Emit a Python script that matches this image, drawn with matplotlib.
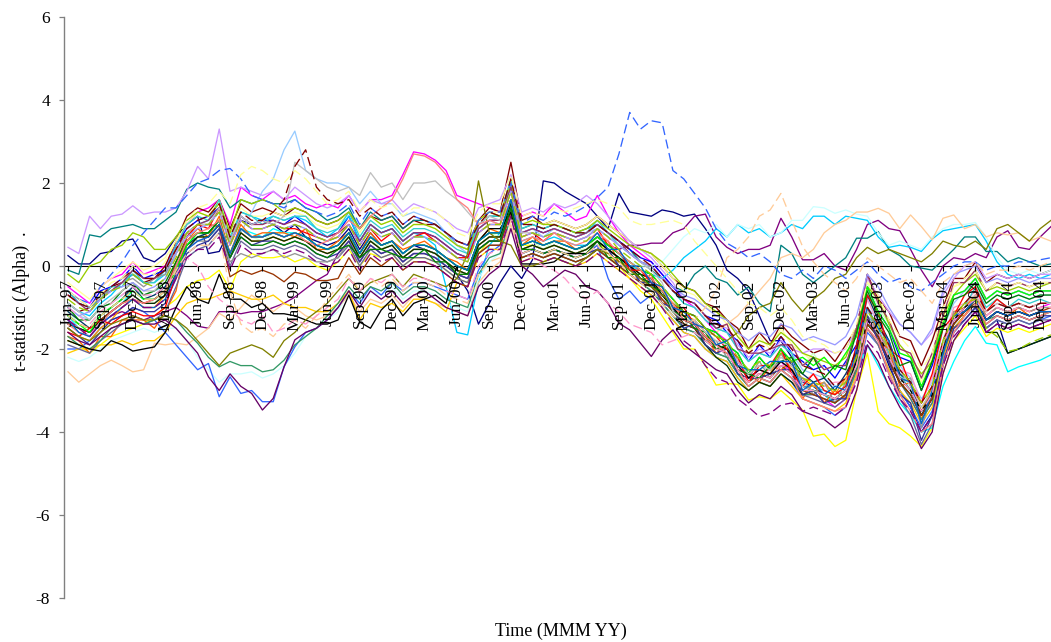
import matplotlib
matplotlib.use("Agg")
import matplotlib.pyplot as plt

plt.rcParams['font.family'] = ['Liberation Serif', 'DejaVu Serif']

# ---------------- categories ----------------
tick_labels = ["Jun-97", "Sep-97", "Dec-97", "Mar-98", "Jun-98", "Sep-98", "Dec-98", "Mar-99",
               "Jun-99", "Sep-99", "Dec-99", "Mar-00", "Jun-00", "Sep-00", "Dec-00", "Mar-01",
               "Jun-01", "Sep-01", "Dec-01", "Mar-02", "Jun-02", "Sep-02", "Dec-02", "Mar-03",
               "Jun-03", "Sep-03", "Dec-03", "Mar-04", "Jun-04", "Sep-04", "Dec-04"]
n_months = 92          # Jun-97 .. Jan-05, monthly
label_step = 3
y_ticks = [-8, -6, -4, -2, 0, 2, 4, 6]
y_tick_labels = ["-8", "-6", "-4", "-2", "0", "2", "4", "6"]

# ---------------- series (t-statistics, monthly) ----------------
darkred = [
 -0.9,-1.1,-1.0,-0.8,-0.5,-0.4,-0.2,-0.4,-0.3,0.0,0.6,1.2,
 1.4,1.3,1.6,0.9,1.5,1.3,1.4,1.3,1.2,1.4,1.3,1.1,
 1.0,1.1,1.3,0.9,1.2,1.1,1.2,0.9,1.1,1.0,1.0,0.8,
 0.6,0.5,1.1,1.4,1.3,2.5,1.1,1.2,1.0,1.1,1.0,0.9,
 1.0,1.2,1.0,0.8,0.6,0.4,0.3,0.0,-0.3,-0.5,-0.6,-0.9,
 -1.0,-1.3,-1.5,-2.0,-1.6,-1.9,-1.4,-1.7,-1.9,-2.1,-2.0,-2.3,
 -1.9,-1.5,-0.2,-0.8,-1.1,-1.7,-1.8,-2.4,-1.8,-1.0,-0.3,-0.3,
 0.1,-0.4,-0.2,-0.3,-0.2,-0.3,-0.2,-0.1]
blue = [
 -0.6,-0.9,-1.0,-0.6,-0.5,-0.3,0.0,-0.3,-0.2,-0.1,0.5,0.9,
 1.1,1.2,1.4,0.6,1.2,1.0,1.1,1.1,1.0,1.2,1.0,0.8,
 0.7,0.8,1.2,0.6,1.0,0.8,0.9,0.6,0.8,0.8,0.7,0.5,
 0.3,0.2,0.9,1.1,1.1,1.9,0.8,0.9,0.8,0.9,0.8,0.7,
 0.8,1.0,0.8,0.6,0.4,0.2,0.1,-0.2,-0.5,-0.8,-0.9,-1.2,
 -1.3,-1.6,-1.8,-2.3,-1.9,-2.2,-1.7,-2.1,-2.3,-2.5,-2.4,-2.7,
 -2.3,-1.9,-0.5,-1.1,-1.5,-2.2,-2.3,-3.0,-2.4,-1.5,-0.7,-0.6,
 -0.3,-0.8,-0.6,-0.7,-0.6,-0.7,-0.6,-0.6]
lightgreen = [
 -1.1,-1.4,-1.5,-1.1,-1.0,-0.8,-0.6,-0.7,-0.9,-0.6,0.0,0.6,
 0.8,0.7,1.1,0.3,0.9,0.7,0.6,0.8,0.8,0.7,0.7,0.5,
 0.4,0.4,0.8,0.3,0.7,0.4,0.6,0.3,0.5,0.5,0.4,0.2,
 0.0,-0.1,0.6,0.8,0.7,1.6,0.5,0.6,0.4,0.6,0.5,0.4,
 0.4,0.7,0.4,0.2,0.0,-0.2,-0.3,-0.6,-0.9,-1.2,-1.3,-1.6,
 -1.9,-1.8,-2.4,-2.5,-2.5,-2.4,-2.3,-2.2,-2.4,-2.1,-2.5,-2.4,
 -2.4,-1.5,-0.4,-1.0,-1.4,-2.1,-2.2,-2.8,-2.2,-1.4,-0.7,-0.6,
 -0.3,-0.8,-0.6,-0.7,-0.6,-0.7,-0.6,-0.6]
aqua = [
 -0.6,-0.9,-1.0,-0.8,-0.5,-0.5,-0.1,-0.4,-0.4,-0.1,0.5,1.0,
 1.2,1.1,1.6,0.7,1.3,1.2,1.0,1.2,1.1,1.2,1.2,0.9,
 0.8,0.9,1.3,0.7,1.1,0.9,1.0,0.7,0.9,0.9,0.8,0.6,
 0.4,0.3,1.0,1.2,1.2,2.1,0.9,1.0,0.9,1.0,0.9,0.8,
 0.8,1.1,0.8,0.5,0.3,0.1,0.0,-0.3,-0.6,-0.9,-1.0,-1.3,
 -1.5,-1.6,-2.0,-2.3,-2.1,-2.2,-1.9,-2.1,-2.9,-2.9,-3.0,-3.1,
 -2.9,-2.3,-1.2,-1.5,-2.1,-2.6,-3.0,-3.5,-3.0,-1.9,-1.3,-1.0,
 -0.5,-1.0,-0.8,-1.0,-0.8,-0.9,-0.8,-0.9]
lime = [
 -0.2,-0.4,0.0,0.1,0.4,0.5,0.8,0.7,0.4,0.4,0.7,1.1,
 1.3,1.2,1.5,0.8,1.6,1.5,1.6,1.5,1.3,1.4,1.3,1.1,
 1.0,1.1,1.3,0.9,1.2,1.0,1.1,0.8,1.0,1.0,0.9,0.7,
 0.5,0.4,1.1,1.3,1.2,2.0,1.0,1.1,1.0,1.0,0.9,0.8,
 0.9,1.1,0.9,0.7,0.5,0.4,0.3,0.1,-0.2,-0.5,-0.6,-0.9,
 -1.1,-1.3,-1.7,-2.0,-1.8,-1.9,-1.6,-1.8,-2.1,-2.2,-2.3,-2.4,
 -2.2,-1.5,-0.5,-0.8,-1.4,-1.9,-2.2,-2.6,-2.3,-1.2,-0.7,-0.4,
 -0.2,-0.6,-0.5,-0.6,-0.5,-0.6,-0.5,-0.4]
gold = [
 -2.1,-2.0,-2.0,-1.9,-1.9,-1.8,-1.9,-1.8,-1.8,-1.6,-1.2,-0.9,
 -0.8,-0.8,-0.7,-0.6,-0.7,-0.8,-0.8,-0.7,-0.9,-1.0,-1.0,-1.1,
 -1.1,-0.9,-0.6,-1.3,-0.9,-1.0,-0.9,-1.1,-0.8,-0.8,-0.9,-1.1,
 -0.4,-0.5,0.2,0.4,0.4,1.3,0.1,0.2,0.1,0.2,0.1,0.0,
 0.1,0.3,0.1,-0.1,-0.3,-0.5,-0.7,-1.0,-1.3,-1.6,-1.7,-2.0,
 -2.2,-2.3,-2.7,-3.0,-2.8,-2.9,-2.6,-2.9,-3.2,-3.3,-3.4,-3.5,
 -3.3,-2.6,-1.5,-1.9,-2.5,-3.0,-3.3,-3.8,-3.4,-2.2,-1.5,-1.2,
 -0.9,-1.4,-1.2,-1.3,-1.2,-1.3,-1.2,-1.1]
black = [
 -1.8,-1.9,-2.0,-2.05,-1.8,-1.9,-2.05,-2.0,-1.95,-1.6,-1.0,-0.5,
 -0.8,-0.9,-0.2,-0.8,-0.8,-1.0,-0.9,-1.15,-1.15,-1.2,-1.3,-1.4,
 -1.4,-1.3,-0.7,-1.35,-1.5,-1.06,-0.8,-1.2,-0.9,-0.8,-0.7,-0.9,
 0.0,-0.1,0.6,0.9,0.9,1.3,0.05,0.05,0.05,0.1,0.3,0.3,
 0.3,0.6,0.4,0.2,0.0,-0.2,-0.3,-0.7,-1.0,-1.3,-1.4,-1.7,
 -1.9,-2.0,-2.4,-2.7,-2.5,-2.6,-2.3,-2.5,-2.9,-3.0,-3.1,-3.2,
 -3.0,-2.3,-1.3,-1.6,-2.2,-2.7,-3.0,-3.5,-3.1,-2.0,-1.3,-1.0,
 -0.8,-1.3,-1.1,-1.2,-1.1,-1.2,-1.1,-1.1]
purple = [
 -1.3,-1.5,-1.6,-1.4,-1.2,-1.1,-1.2,-1.3,-1.2,-1.1,-1.0,-1.2,
 -1.45,-1.5,-1.1,-1.1,-1.15,-1.1,-1.1,-1.0,-0.9,-0.75,-0.55,-0.35,
 -0.2,0.3,0.6,0.1,0.5,0.3,0.4,0.1,0.3,0.3,0.2,0.0,
 -0.2,-0.3,0.4,0.6,0.6,1.4,0.3,0.4,0.3,0.4,0.3,0.3,
 0.4,0.6,0.5,0.4,0.5,0.5,0.55,0.55,0.8,0.9,1.2,1.25,
 0.7,0.45,0.3,0.4,0.4,0.5,1.15,0.7,0.15,0.15,0.3,0.0,
 -0.1,0.4,1.0,1.1,0.9,0.85,0.4,-0.1,-0.5,0.0,0.2,0.15,
 0.3,0.2,0.7,0.85,0.45,0.4,0.7,0.95]
navy = [
 0.25,0.05,0.05,0.3,0.35,0.6,0.65,0.2,0.1,0.3,0.7,1.0,
 1.2,0.3,0.35,0.9,1.1,1.0,1.1,1.0,0.8,1.0,0.7,0.6,
 0.5,0.6,0.9,0.4,0.8,0.5,0.6,0.3,0.5,0.4,0.3,0.1,
 -0.2,-0.6,-1.4,-0.9,-0.4,0.0,-0.3,0.15,2.05,2.0,1.8,1.65,
 1.5,1.2,0.9,1.75,1.3,1.25,1.2,1.35,1.3,1.2,1.25,0.9,
 0.5,-0.1,-0.3,-0.6,-1.2,-1.8,-1.8,-2.2,-2.8,-2.9,-3.1,-3.3,
 -3.1,-2.5,-1.3,-1.7,-2.4,-3.0,-3.4,-4.0,-3.6,-2.3,-1.5,-1.2,
 -0.9,-1.5,-1.3,-2.1,-2.0,-1.9,-1.8,-1.7]
magenta = [
 -0.5,-0.7,-0.9,-0.5,-0.3,-0.2,0.1,-0.2,-0.1,0.0,0.5,1.0,
 1.3,1.4,1.6,1.0,1.9,1.7,1.6,1.8,1.6,1.7,1.5,1.4,
 1.5,1.4,1.7,1.3,1.6,1.6,1.7,2.2,2.75,2.7,2.55,2.3,
 1.7,1.6,1.5,1.4,1.3,2.0,1.2,1.3,1.2,1.5,1.3,1.1,
 1.2,1.7,1.2,0.8,0.5,0.3,0.1,-0.2,-0.5,-0.8,-1.0,-1.3,
 -1.6,-1.8,-2.3,-2.7,-2.5,-2.6,-2.3,-2.6,-3.1,-3.1,-3.2,-3.4,
 -3.2,-2.4,-1.3,-1.6,-2.3,-2.8,-3.2,-3.7,-3.3,-2.2,-1.4,-1.0,
 -0.7,-1.2,-1.0,-1.1,-1.0,-1.1,-1.0,-0.9]
coral = [
 -1.4,-1.6,-1.7,-1.4,-1.1,-0.9,-0.8,-0.9,-0.8,-0.6,0.0,0.6,
 0.8,0.9,1.1,0.3,0.9,0.7,0.7,0.8,0.7,0.8,0.6,0.5,
 0.6,0.8,1.1,0.9,1.2,1.4,1.6,2.1,2.7,2.65,2.5,2.2,
 1.6,1.4,1.0,1.1,1.0,1.6,0.6,0.7,0.6,0.8,0.6,0.5,
 0.6,0.8,0.6,0.3,0.1,-0.1,-0.3,-0.6,-0.9,-1.3,-1.4,-1.7,
 -1.9,-2.1,-2.5,-2.9,-2.7,-2.8,-2.5,-2.7,-3.2,-3.3,-3.4,-3.5,
 -3.4,-2.7,-1.5,-1.8,-2.6,-3.1,-3.5,-4.0,-3.8,-2.4,-1.6,-1.2,
 -0.9,-1.4,-1.2,-1.3,-1.2,-1.3,-1.2,-1.1]
silver = [
 -0.9,-1.1,-1.3,-1.0,-0.8,-0.6,-0.4,-0.6,-0.6,-0.3,0.3,0.8,
 1.0,1.0,1.4,0.6,1.2,1.0,1.1,1.0,1.2,2.5,2.3,2.1,
 1.9,1.8,1.9,1.7,2.25,1.9,2.0,1.6,2.0,2.0,2.05,1.8,
 1.6,1.3,1.0,1.2,1.1,1.8,0.8,0.8,0.7,0.8,0.7,0.6,
 0.7,0.9,0.7,0.5,0.3,0.1,-0.1,-0.4,-1.1,-1.3,-1.3,-1.6,
 -1.8,-1.9,-2.3,-2.6,-2.4,-2.5,-2.2,-2.4,-2.9,-3.0,-3.1,-3.2,
 -3.0,-2.4,-1.1,-1.4,-2.0,-2.5,-2.9,-3.4,-3.0,-1.8,-1.2,-0.9,
 -0.7,-1.1,-0.9,-1.0,-0.9,-1.0,-0.9,-0.9]
paleblue = [
 -1.0,-1.2,-1.3,-1.0,-0.9,-0.7,-0.5,-0.7,-0.6,-0.5,0.0,0.4,
 0.6,0.7,0.9,0.3,0.8,1.3,1.8,2.1,2.8,3.25,2.3,2.1,
 2.0,2.0,1.9,1.5,1.8,1.5,1.5,1.2,1.3,1.2,1.1,0.8,
 0.5,0.3,0.9,1.1,1.0,1.8,0.8,0.9,0.7,0.9,0.8,0.7,
 0.8,0.9,0.7,0.5,0.3,0.1,0.0,-0.3,-0.6,-0.9,-1.0,-1.3,
 -1.5,-1.6,-2.0,-2.3,-2.1,-2.2,-1.9,-2.1,-2.5,-2.6,-2.7,-2.9,
 -2.8,-2.1,-1.0,-1.3,-1.9,-2.4,-2.7,-3.2,-2.8,-1.5,-0.9,-0.6,
 -0.4,-0.9,-0.7,-0.8,-0.7,-0.8,-0.7,-0.7]
lavender = [
 0.45,0.3,1.2,0.9,1.2,1.25,1.45,1.25,1.3,1.3,1.4,1.8,
 2.4,2.1,3.3,1.8,1.9,1.8,1.7,1.8,1.6,1.9,1.7,1.5,
 1.4,1.5,1.7,1.3,1.6,1.5,1.6,1.3,1.5,1.4,1.3,1.1,
 0.9,0.8,1.4,1.5,1.6,2.2,1.3,1.4,1.3,1.5,1.4,1.5,
 1.7,1.5,1.2,0.9,0.6,0.4,0.2,-0.1,-0.4,-0.8,-0.9,-1.2,
 -1.4,-1.5,-1.9,-2.2,-2.0,-2.1,-1.8,-2.0,-2.1,-2.0,-2.0,-2.1,
 -2.0,-1.5,-0.3,-0.7,-1.1,-1.4,-1.6,-1.9,-1.6,-0.7,-0.3,0.0,
 0.1,-0.3,-0.2,-0.3,-0.2,-0.3,-0.2,-0.2]
teal = [
 -0.1,-0.2,0.75,0.7,0.9,0.95,1.0,0.9,0.9,1.1,1.3,1.85,
 2.0,1.9,1.85,1.4,1.6,1.5,1.6,1.5,1.5,1.6,1.4,1.3,
 1.1,1.2,1.4,0.9,1.3,1.1,1.2,0.9,1.1,1.1,1.0,0.8,
 0.5,0.4,1.0,1.2,1.2,1.9,0.9,1.0,0.9,1.0,0.9,0.8,
 0.9,1.0,0.8,0.6,0.4,0.1,-0.1,-0.3,-0.5,-0.6,-0.2,0.0,
 -0.3,-0.4,-0.7,-0.5,-0.9,-1.1,0.5,0.3,-0.2,-0.4,-0.2,0.0,
 0.2,0.67,0.67,0.83,0.4,0.25,0.0,-0.05,-0.1,0.15,0.4,0.7,
 0.7,0.35,0.35,0.1,0.2,0.1,0.0,0.05]
olive = [
 -1.5,-1.7,-1.8,-1.6,-1.4,-1.3,-1.2,-1.3,-1.3,-1.2,-1.3,-1.5,
 -1.8,-2.1,-2.4,-2.1,-2.0,-1.9,-2.0,-2.2,-1.8,-1.6,-1.3,-1.1,
 -0.9,-0.6,-0.3,-0.6,-0.4,-0.3,-0.2,-0.5,-0.2,-0.3,-0.4,-0.5,
 -0.3,0.3,2.05,0.8,0.6,0.5,0.0,0.0,0.1,0.2,0.1,0.0,
 0.2,0.4,0.3,0.1,-0.1,-0.3,-0.5,-0.7,-0.9,-1.1,-1.2,-1.5,
 -1.7,-1.8,-1.6,-1.2,-1.0,-0.9,-0.4,-0.8,-1.1,-0.8,-0.6,-0.3,
 -0.2,0.2,0.45,0.3,0.4,0.3,0.2,0.1,0.3,0.6,0.5,0.45,
 0.6,0.4,0.9,1.0,0.8,0.6,0.9,1.1]
tan = [
 -2.55,-2.8,-2.6,-2.4,-2.27,-2.4,-2.55,-2.5,-1.86,-1.9,-1.86,-1.9,
 -1.7,-1.5,-1.14,-1.3,-1.0,-0.7,-0.9,-1.1,-0.9,-1.0,-1.2,-1.3,
 -1.2,-1.0,-0.7,-1.1,-0.8,-0.9,-0.7,-1.0,-0.7,-0.8,-0.9,-1.0,
 -1.1,-1.2,-0.4,-0.1,0.1,1.0,0.2,0.3,0.2,0.4,0.3,0.2,
 0.3,0.5,0.3,0.1,-0.1,-0.3,-0.4,-0.8,-1.1,-1.3,-1.4,-1.7,
 -1.6,-1.4,-1.2,-0.9,-0.6,-0.3,0.2,0.3,0.2,0.4,0.8,1.0,
 1.1,1.3,1.3,1.39,1.27,0.9,1.23,0.95,0.63,1.15,1.23,0.9,
 1.0,0.7,0.8,0.75,0.8,0.6,0.7,0.6]
brown = [
 -1.2,-1.4,-1.5,-1.3,-1.1,-0.9,-0.8,-0.9,-0.8,-0.6,0.1,0.7,
 1.0,1.0,0.95,-0.26,-0.1,-0.2,-0.1,-0.2,-0.38,-0.15,-0.2,-0.35,
 -0.35,-0.3,0.2,-0.2,0.2,0.0,0.2,-0.1,0.1,0.1,0.0,-0.2,
 -0.4,-0.5,0.3,0.5,0.5,1.3,0.2,0.3,0.2,0.3,0.2,0.1,
 0.2,0.4,0.2,0.0,-0.2,-0.4,-0.5,-0.8,-1.1,-1.4,-1.5,-1.8,
 -2.0,-2.1,-2.5,-2.8,-2.6,-2.7,-2.4,-2.6,-3.0,-3.1,-3.2,-3.3,
 -3.1,-2.4,-1.4,-1.7,-2.3,-2.8,-3.1,-3.6,-3.2,-2.0,-1.4,-1.1,
 -0.8,-1.3,-1.1,-1.2,-1.1,-1.2,-1.1,-1.0]
yellow = [
 -1.8,-1.9,-2.1,-1.9,-1.7,-1.6,-1.5,-1.4,-1.2,-1.0,-0.8,-0.5,
 -0.35,-0.3,-0.1,-0.58,0.1,0.3,0.2,0.2,0.25,0.1,0.2,0.0,
 -0.1,0.1,0.4,0.0,0.3,0.2,0.3,0.0,0.2,0.2,0.1,-0.1,
 -0.3,-0.4,0.3,0.6,0.6,1.5,0.5,0.5,0.4,0.5,0.4,0.3,
 0.4,0.6,0.3,0.0,-0.3,-0.6,-0.8,-1.2,-1.6,-2.0,-2.0,-2.4,
 -2.87,-2.83,-2.85,-3.23,-3.15,-3.2,-3.0,-3.23,-3.47,-4.1,-4.05,-4.35,
 -4.2,-3.0,-2.1,-3.5,-3.8,-3.9,-4.1,-4.35,-3.9,-2.6,-1.8,-1.5,
 -1.2,-1.7,-1.5,-1.6,-1.5,-1.6,-1.5,-1.4]
cyan = [
 -1.2,-1.5,-1.7,-1.4,-1.1,-0.9,-0.6,-0.8,-0.8,-0.6,0.0,0.5,
 0.8,0.8,1.1,0.2,0.9,0.8,0.7,0.9,0.8,0.8,0.7,0.5,
 0.4,0.4,0.7,0.2,0.6,0.4,0.5,0.2,0.4,0.4,0.3,0.1,
 -0.1,-0.2,0.5,0.7,0.7,1.5,0.4,0.5,0.4,0.5,0.4,0.3,
 0.4,0.6,0.4,0.2,-0.1,-0.3,-0.5,-0.8,-1.1,-1.4,-1.5,-1.8,
 -2.0,-2.1,-2.5,-2.8,-2.6,-2.7,-2.4,-2.6,-3.0,-3.0,-3.1,-3.3,
 -3.1,-2.6,-1.9,-2.4,-2.9,-3.3,-3.6,-4.0,-3.9,-2.9,-2.3,-1.8,
 -1.46,-1.86,-1.9,-2.55,-2.43,-2.35,-2.27,-2.14]
skyblue = [
 -0.9,-1.1,-1.2,-0.9,-0.7,-0.4,-0.2,-0.4,-0.4,-0.2,0.3,0.8,
 1.0,1.1,1.4,0.6,1.3,1.2,1.1,1.2,1.1,1.2,1.1,0.9,
 0.7,0.9,1.2,0.6,1.0,0.8,0.9,0.6,0.8,0.7,0.5,-0.5,
 -1.6,-1.66,-0.4,0.5,0.8,1.6,0.6,0.7,0.6,0.7,0.6,0.5,
 0.5,0.7,0.5,0.3,0.0,-0.1,-0.2,-0.3,-0.1,0.2,0.4,0.6,
 0.9,0.7,1.0,0.8,0.9,0.7,0.8,1.0,0.9,1.2,1.2,1.0,
 1.2,1.15,1.1,0.7,0.45,0.5,0.45,0.35,0.65,0.85,0.9,0.95,
 1.0,0.6,0.1,-0.2,-0.3,-0.2,-0.3,-0.2]
lightturq = [
 -2.2,-2.3,-2.2,-2.0,-1.8,-1.7,-1.6,-1.5,-1.6,-1.5,-1.5,-1.8,
 -2.2,-2.5,-2.8,-2.6,-2.6,-2.55,-2.7,-2.6,-2.4,-2.1,-1.7,-1.5,
 -1.3,-1.1,-0.6,-0.9,-0.6,-0.7,-0.5,-0.8,-0.6,-0.6,-0.7,-0.9,
 -1.0,-1.1,-0.3,0.1,0.3,1.2,0.3,0.4,0.3,0.4,0.3,0.3,
 0.4,0.6,0.5,0.3,0.1,0.0,0.0,0.1,0.4,0.7,0.9,0.8,
 1.0,0.7,1.0,0.9,1.0,0.7,0.8,1.1,1.1,1.43,1.4,1.27,
 1.35,1.25,1.2,0.8,0.5,0.6,0.5,0.4,0.7,0.9,1.0,1.0,
 1.05,0.7,0.2,-0.1,-0.2,-0.1,-0.2,-0.1]
seagreen = [
 -1.7,-1.9,-2.0,-1.8,-1.5,-1.4,-1.3,-1.4,-1.3,-1.2,-1.3,-1.6,
 -1.86,-2.2,-2.43,-2.3,-2.4,-2.4,-2.55,-2.5,-2.27,-1.9,-1.7,-1.5,
 -1.2,-0.9,-0.5,-0.8,-0.5,-0.6,-0.4,-0.7,-0.5,-0.5,-0.6,-0.8,
 -0.9,-1.0,-0.2,0.2,0.3,1.2,0.2,0.3,0.2,0.3,0.2,0.1,
 0.2,0.4,0.2,0.0,-0.2,-0.4,-0.6,-0.9,-1.2,-1.5,-1.6,-1.9,
 -2.1,-2.2,-2.6,-2.9,-2.7,-2.8,-2.5,-2.7,-3.1,-3.1,-3.2,-3.3,
 -3.1,-2.5,-1.4,-1.7,-2.3,-2.8,-3.2,-3.7,-3.3,-2.1,-1.4,-1.1,
 -0.9,-1.3,-1.2,-1.3,-1.2,-1.3,-1.2,-1.1]
lightblue = [
 -2.0,-2.0,-1.8,-1.5,-1.3,-1.2,-1.0,-1.1,-1.3,-1.6,-1.9,-2.2,
 -2.5,-2.35,-3.15,-2.67,-3.07,-3.0,-3.27,-3.27,-2.43,-1.95,-1.6,-1.5,
 -1.3,-1.0,-0.6,-0.9,-0.5,-0.7,-0.4,-0.6,-0.4,-0.4,-0.5,-0.6,
 -0.7,-0.8,-0.1,0.3,0.5,1.3,0.3,0.4,0.3,0.4,0.3,0.2,
 0.3,0.5,-0.3,-0.8,-0.6,-0.9,-0.7,-1.0,-1.3,-1.6,-1.7,-2.0,
 -2.2,-2.3,-2.7,-3.0,-2.8,-2.9,-2.6,-2.8,-3.2,-3.3,-3.4,-3.6,
 -3.4,-2.7,-1.6,-1.9,-2.5,-3.0,-3.4,-3.9,-3.5,-2.3,-1.6,-1.3,
 -1.0,-1.5,-1.3,-1.4,-1.3,-1.4,-1.3,-1.2]
darkpurple = [
 -1.6,-1.8,-1.9,-1.7,-1.5,-1.4,-1.3,-1.4,-1.4,-1.3,-1.5,-1.8,
 -2.1,-2.67,-3.0,-2.6,-2.9,-3.07,-3.47,-3.19,-2.43,-1.78,-1.6,-1.5,
 -1.3,-1.0,-0.6,-1.0,-0.6,-0.8,-0.6,-0.9,-0.7,-0.6,-0.8,-1.0,
 -1.1,-1.2,-0.5,-0.2,0.0,0.9,0.0,-0.2,-0.5,-0.3,-0.1,-0.2,
 -0.5,-0.6,-0.9,-1.38,-1.54,-1.86,-2.18,-1.78,-1.54,-1.9,-2.1,-2.3,
 -2.5,-2.6,-3.0,-3.3,-3.1,-3.2,-2.9,-3.1,-3.5,-3.6,-3.7,-3.9,
 -3.7,-3.0,-1.9,-2.3,-2.9,-3.4,-3.8,-4.4,-4.0,-2.6,-1.8,-1.4,
 -1.1,-1.6,-1.4,-1.5,-1.4,-1.5,-1.4,-1.3]
lightyellow = [
 -0.4,-0.6,-0.8,-0.5,-0.3,-0.1,0.1,-0.1,0.0,0.2,0.6,1.0,
 1.3,1.2,1.6,0.8,1.4,1.2,1.2,1.3,1.2,1.3,1.2,1.0,
 0.9,1.0,1.3,0.8,1.2,1.0,1.1,0.8,1.0,1.0,0.9,0.7,
 0.5,0.4,1.1,1.3,1.3,2.1,1.0,1.1,1.0,1.1,1.0,0.9,
 1.0,1.2,1.0,0.8,0.6,0.4,0.3,0.0,-0.3,-0.6,-0.7,-1.0,
 -1.1,-1.4,-1.6,-2.1,-1.7,-2.0,-1.5,-1.9,-2.1,-2.3,-2.2,-2.5,
 -2.1,-1.7,-0.3,-0.9,-1.3,-2.0,-2.1,-2.8,-2.2,-1.3,-0.5,-0.4,
 -0.1,-0.6,-0.4,-0.5,-0.4,-0.5,-0.4,-0.4]
rose = [
 -1.3,-1.5,-1.7,-1.3,-1.1,-0.9,-0.7,-0.9,-0.9,-0.7,-0.1,0.4,
 0.6,0.7,1.0,0.2,0.8,0.6,0.6,0.7,0.6,0.7,0.6,0.4,
 0.3,0.4,0.7,0.2,0.6,0.4,0.5,0.2,0.4,0.4,0.3,0.1,
 -0.1,-0.2,0.5,0.7,0.7,1.5,0.4,0.5,0.4,0.5,0.4,0.3,
 0.3,0.5,0.3,0.1,-0.1,-0.3,-0.4,-0.7,-1.0,-1.3,-1.4,-1.7,
 -2.0,-1.9,-2.5,-2.6,-2.6,-2.5,-2.4,-2.4,-2.8,-2.6,-2.9,-2.8,
 -2.8,-2.0,-0.8,-1.4,-1.8,-2.5,-2.6,-3.3,-2.7,-1.8,-1.0,-0.9,
 -0.6,-1.1,-0.9,-1.0,-0.9,-1.0,-0.9,-0.9]
orange = [
 -1.7,-1.8,-2.1,-1.7,-1.7,-1.3,-1.3,-1.3,-1.5,-1.1,-0.6,0.6,
 0.9,0.7,1.2,0.3,1.0,0.7,0.8,0.8,0.8,0.7,0.9,0.4,
 0.4,0.6,0.8,0.3,0.8,0.5,0.6,0.4,0.5,0.6,0.4,0.2,
 0.1,-0.1,0.6,0.9,0.8,1.6,0.5,0.7,0.5,0.6,0.6,0.4,
 0.5,0.7,0.6,0.1,0.0,-0.4,-0.2,-0.9,-0.9,-1.3,-1.4,-1.7,
 -2.1,-1.9,-2.5,-2.6,-2.8,-2.4,-2.5,-2.3,-3.2,-2.8,-3.3,-3.0,
 -3.2,-2.1,-1.2,-1.8,-2.0,-2.9,-2.8,-3.7,-2.9,-2.2,-1.2,-1.2,
 -0.8,-1.3,-1.1,-1.2,-1.0,-1.2,-1.1,-1.1]
red = [
 -1.6,-1.7,-1.5,-1.3,-1.4,-1.2,-1.1,-1.2,-1.2,-1.0,-0.2,0.7,
 1.0,0.9,1.4,0.5,1.1,0.9,0.9,1.0,0.9,0.9,0.8,0.7,
 0.6,0.7,1.0,0.5,0.9,0.6,0.8,0.5,0.7,0.8,0.6,0.4,
 0.2,0.2,0.8,1.0,1.0,1.8,0.7,0.8,0.6,0.8,0.7,0.6,
 0.7,0.9,0.5,0.4,-0.1,-0.1,-0.4,-0.5,-1.0,-1.0,-1.4,-1.5,
 -1.7,-2.0,-2.2,-2.8,-2.4,-2.4,-2.0,-2.6,-2.9,-2.6,-3.0,-3.1,
 -2.9,-1.9,-0.7,-1.1,-2.0,-2.2,-2.9,-3.3,-2.6,-1.5,-1.2,-0.7,
 -0.5,-1.1,-0.8,-1.0,-0.9,-1.0,-0.9,-0.9]
green = [
 -1.0,-1.3,-1.3,-1.0,-0.9,-0.6,-0.4,-0.7,-0.6,-0.4,0.1,0.6,
 0.8,0.8,1.1,0.2,0.7,0.5,0.5,0.6,0.5,0.6,0.5,0.3,
 0.2,0.4,0.5,0.2,0.4,0.4,0.3,0.2,0.2,0.4,0.1,0.1,
 -0.2,-0.2,0.4,0.6,0.6,1.4,0.4,0.4,0.3,0.4,0.3,0.2,
 0.3,0.6,0.2,0.2,-0.2,-0.2,-0.5,-0.6,-1.1,-1.2,-1.5,-1.6,
 -2.0,-1.9,-2.5,-2.6,-2.7,-2.4,-2.3,-2.2,-2.6,-2.2,-2.7,-2.4,
 -2.5,-1.6,-0.6,-1.2,-1.6,-2.4,-2.3,-3.0,-2.3,-1.5,-0.8,-0.7,
 -0.4,-0.9,-0.7,-0.8,-0.7,-0.8,-0.7,-0.7]
darkgreen = [
 -1.4,-1.5,-1.6,-1.3,-1.1,-0.9,-0.7,-0.9,-0.9,-0.7,-0.2,0.4,
 0.7,0.7,1.0,0.2,0.8,0.6,0.6,0.7,0.6,0.7,0.6,0.4,
 0.3,0.4,0.7,0.2,0.6,0.4,0.5,0.2,0.4,0.4,0.3,0.1,
 -0.1,-0.2,0.5,0.7,0.7,1.5,0.4,0.5,0.4,0.5,0.4,0.3,
 0.4,0.6,0.4,0.2,0.0,-0.3,-0.4,-0.7,-1.0,-1.4,-1.5,-1.9,
 -2.2,-2.4,-2.8,-3.0,-2.8,-2.9,-2.6,-2.8,-3.1,-3.0,-3.1,-3.2,
 -3.0,-2.4,-1.4,-1.7,-2.3,-2.8,-3.1,-3.6,-3.2,-2.0,-1.4,-1.1,
 -0.9,-1.6,-1.6,-2.1,-2.0,-1.9,-1.8,-1.7]
gray40 = [
 -0.6,-0.8,-1.0,-0.7,-0.6,-0.4,-0.3,-0.5,-0.3,-0.2,0.3,0.8,
 0.6,0.6,0.9,0.1,0.3,0.2,0.3,0.4,0.2,0.3,0.2,0.1,
 0.1,0.2,0.6,0.1,0.5,0.3,0.4,0.1,0.3,0.3,0.2,0.0,
 -0.2,-0.3,0.4,0.6,0.6,1.4,0.3,0.4,0.3,0.4,0.3,0.2,
 0.3,0.4,0.4,0.0,0.0,-0.4,-0.3,-0.8,-1.0,-1.4,-1.3,-1.8,
 -1.8,-2.2,-2.2,-2.7,-2.3,-2.7,-2.1,-2.6,-2.7,-3.1,-2.8,-3.3,
 -2.8,-2.4,-1.0,-1.7,-1.9,-2.8,-2.7,-3.9,-3.1,-2.2,-1.1,-1.1,
 -0.8,-1.2,-1.0,-1.1,-1.0,-1.1,-1.0,-1.0]
darkteal = [
 -1.1,-1.3,-1.5,-1.2,-1.0,-0.8,-0.5,-0.8,-0.7,-0.5,0.0,0.5,
 0.7,0.8,1.1,0.3,0.9,0.7,0.7,0.8,0.7,0.8,0.7,0.5,
 0.4,0.5,0.8,0.3,0.7,0.5,0.6,0.3,0.5,0.5,0.4,0.2,
 0.0,-0.1,0.6,0.8,0.8,1.6,0.5,0.6,0.5,0.6,0.5,0.4,
 0.5,0.7,0.5,0.3,0.1,-0.1,-0.2,-0.5,-0.8,-1.1,-1.2,-1.5,
 -1.6,-1.9,-2.1,-2.6,-2.2,-2.5,-2.0,-2.4,-2.6,-2.8,-2.7,-3.0,
 -2.6,-2.1,-0.7,-1.3,-1.8,-2.6,-2.8,-3.6,-3.1,-2.1,-1.2,-1.1,
 -0.8,-1.3,-1.1,-1.2,-1.1,-1.2,-1.1,-1.1]
indigo = [
 -1.5,-1.7,-1.9,-1.6,-1.3,-1.2,-1.0,-1.1,-1.1,-0.9,-0.3,0.3,
 0.5,0.6,0.9,0.2,0.7,0.5,0.6,0.6,0.5,0.6,0.5,0.3,
 0.2,0.3,0.6,0.1,0.5,0.3,0.4,0.1,0.3,0.3,0.2,0.0,
 -0.2,-0.3,0.4,0.6,0.6,1.4,0.3,0.4,0.3,0.4,0.3,0.2,
 0.3,0.4,0.4,0.0,0.0,-0.4,-0.4,-0.9,-1.0,-1.5,-1.4,-1.9,
 -2.1,-2.0,-2.6,-2.7,-2.7,-2.6,-2.5,-2.5,-3.1,-3.0,-3.3,-3.2,
 -3.2,-2.2,-1.2,-1.8,-2.3,-3.1,-3.3,-4.2,-3.6,-2.4,-1.5,-1.3,
 -1.0,-1.4,-1.2,-1.3,-1.2,-1.3,-1.2,-1.2]
plum = [
 -0.7,-0.9,-1.1,-0.8,-0.6,-0.4,-0.1,-0.3,-0.3,-0.1,0.4,0.8,
 1.0,1.1,1.4,0.6,1.2,1.0,1.0,1.1,1.0,1.1,1.0,0.8,
 0.7,0.8,1.0,0.6,1.0,0.8,0.9,0.6,0.8,0.8,0.7,0.5,
 0.3,0.2,0.9,1.1,1.1,1.9,0.8,0.9,0.8,0.9,0.8,0.7,
 0.8,1.0,0.8,0.6,0.3,0.1,0.0,-0.3,-0.6,-0.8,-0.9,-1.2,
 -1.5,-1.4,-2.0,-2.1,-2.1,-2.0,-1.9,-1.9,-2.4,-2.2,-2.5,-2.4,
 -2.4,-1.5,-0.2,-0.9,-1.3,-2.0,-2.1,-2.7,-2.1,-1.2,-0.4,-0.4,
 -0.1,-0.6,-0.4,-0.5,-0.4,-0.5,-0.4,-0.4]
bluegray = [
 -1.9,-2.0,-2.1,-1.8,-1.6,-1.4,-1.3,-1.4,-1.3,-1.1,-0.5,0.2,
 0.4,0.5,0.8,0.0,0.6,0.4,0.4,0.5,0.4,0.5,0.4,0.2,
 0.1,0.2,0.5,0.0,0.4,0.2,0.3,0.0,0.2,0.2,0.1,-0.1,
 -0.3,-0.4,0.3,0.5,0.5,1.3,0.2,0.3,0.2,0.3,0.2,0.1,
 0.2,0.4,0.2,0.0,-0.2,-0.4,-0.6,-0.9,-1.2,-1.5,-1.6,-1.9,
 -2.1,-2.2,-2.6,-2.9,-2.7,-2.8,-2.5,-2.7,-3.1,-3.2,-3.3,-3.4,
 -3.2,-2.5,-1.5,-1.9,-2.6,-3.2,-3.6,-4.3,-3.8,-2.4,-1.6,-1.3,
 -1.0,-1.5,-1.3,-1.4,-1.3,-1.4,-1.3,-1.3]
periwinkle = [
 -1.0,-1.2,-1.1,-0.8,-0.6,-0.5,-0.4,-0.6,-0.5,-0.3,0.3,0.7,
 0.9,1.0,1.3,0.5,1.1,0.9,0.9,1.0,0.9,1.0,0.9,0.7,
 0.6,0.7,1.0,0.5,0.9,0.7,0.8,0.5,0.7,0.7,0.6,0.4,
 0.2,0.1,0.8,1.0,1.0,1.8,0.7,0.8,0.7,0.8,0.7,0.6,
 0.7,0.9,0.7,0.5,0.3,0.1,0.0,-0.3,-0.5,-0.7,-0.8,-1.0,
 -1.2,-1.3,-1.6,-1.8,-1.6,-1.7,-1.4,-1.5,-1.8,-1.7,-1.8,-1.9,
 -1.7,-1.2,-0.2,-0.5,-1.0,-1.4,-1.6,-1.9,-1.5,-0.6,-0.2,-0.1,
 0.0,-0.4,-0.3,-0.4,-0.3,-0.4,-0.3,-0.3]
ocean = [
 -1.3,-1.6,-1.7,-1.4,-1.2,-1.0,-0.8,-1.0,-1.0,-0.8,-0.2,0.4,
 0.6,0.7,1.0,0.3,0.9,0.7,0.7,0.8,0.7,0.8,0.7,0.5,
 0.4,0.5,0.8,0.3,0.7,0.5,0.6,0.3,0.5,0.5,0.4,0.2,
 0.0,-0.1,0.6,0.8,0.8,1.6,0.5,0.6,0.5,0.6,0.5,0.4,
 0.5,0.8,0.4,0.4,0.0,0.0,-0.4,-0.5,-1.0,-1.1,-1.4,-1.5,
 -1.9,-1.8,-2.4,-2.5,-2.5,-2.3,-2.3,-2.3,-3.0,-2.8,-3.1,-2.9,
 -3.0,-2.0,-1.0,-1.5,-1.8,-2.7,-2.8,-3.8,-3.0,-2.1,-1.2,-1.1,
 -0.8,-1.3,-1.1,-1.2,-1.1,-1.2,-1.1,-1.1]
brightgreen = [
 -1.2,-1.4,-1.6,-1.2,-1.0,-0.8,-0.6,-0.8,-0.8,-0.6,-0.1,0.5,
 0.8,0.8,1.1,0.3,0.9,0.7,0.7,0.8,0.7,0.8,0.7,0.5,
 0.4,0.5,0.8,0.3,0.7,0.5,0.6,0.3,0.5,0.5,0.4,0.2,
 0.0,-0.1,0.6,0.8,0.8,1.6,0.5,0.6,0.5,0.6,0.5,0.4,
 0.5,0.7,0.5,0.3,0.1,-0.1,-0.2,-0.5,-0.8,-1.1,-1.2,-1.5,
 -1.6,-1.9,-2.1,-2.6,-2.2,-2.5,-2.0,-2.3,-2.2,-2.4,-2.2,-2.5,
 -2.1,-1.7,-0.5,-1.1,-1.5,-2.1,-2.2,-2.9,-2.3,-1.4,-0.7,-0.6,
 -0.3,-0.8,-0.6,-0.7,-0.6,-0.7,-0.6,-0.6]
lightorange = [
 -1.5,-1.7,-1.8,-1.5,-1.3,-1.0,-0.8,-1.0,-1.0,-0.7,-0.2,0.5,
 0.7,0.7,1.0,0.3,0.8,0.6,0.6,0.7,0.6,0.7,0.6,0.4,
 0.3,0.4,0.7,0.2,0.6,0.4,0.5,0.2,0.4,0.4,0.3,0.1,
 -0.1,-0.2,0.5,0.7,0.7,1.5,0.4,0.5,0.4,0.5,0.4,0.3,
 0.4,0.6,0.4,0.2,0.0,-0.2,-0.3,-0.6,-0.9,-1.2,-1.3,-1.6,
 -1.9,-1.8,-2.4,-2.5,-2.5,-2.6,-2.1,-2.5,-2.7,-2.9,-2.8,-3.1,
 -2.7,-2.3,-1.0,-1.6,-2.0,-2.7,-2.8,-3.5,-2.9,-2.0,-1.1,-1.0,
 -0.7,-1.2,-1.0,-1.1,-1.0,-1.1,-1.0,-1.0]
# dashed series
dash_blue = [
 -0.6,-0.8,-0.9,-0.5,-0.2,0.1,0.5,0.8,1.1,1.4,1.4,1.7,
 2.0,2.1,2.3,2.35,2.1,1.7,1.6,1.5,1.4,1.6,1.4,1.3,
 1.2,1.3,1.5,1.0,1.4,1.2,1.3,1.0,1.2,1.1,1.0,0.8,
 0.6,0.5,1.1,1.3,1.3,2.0,1.0,1.2,1.1,1.3,1.2,1.3,
 1.45,1.65,1.9,2.7,3.7,3.3,3.5,3.45,2.3,2.1,1.75,1.4,
 0.9,0.55,0.4,0.2,0.3,0.1,-0.2,-0.3,-0.1,-0.3,0.0,-0.1,
 -0.3,-0.1,0.1,-0.2,-0.4,-0.3,-0.5,-0.6,-0.4,-0.2,0.0,0.1,
 0.1,-0.1,0.0,0.0,0.1,0.1,0.15,0.2]
dash_darkred = [
 -0.7,-0.9,-1.0,-0.7,-0.5,-0.3,-0.1,-0.3,-0.3,-0.1,0.4,0.9,
 1.1,1.2,1.5,0.7,1.3,1.1,1.1,1.3,1.6,2.4,2.8,1.9,
 1.6,1.5,1.6,1.2,1.4,1.2,1.3,1.0,1.2,1.1,1.0,0.8,
 0.6,0.5,1.0,1.3,1.2,2.1,1.0,1.0,0.9,1.0,0.9,0.8,
 0.8,1.0,0.8,0.6,0.4,0.2,0.0,-0.3,-0.6,-0.8,-0.9,-1.2,
 -1.4,-1.5,-1.8,-2.1,-1.9,-2.0,-1.7,-2.0,-2.4,-2.5,-2.6,-2.9,
 -2.7,-2.0,-1.0,-1.4,-1.9,-2.5,-2.8,-3.3,-2.9,-1.8,-1.2,-0.9,
 -0.6,-1.1,-0.9,-1.0,-0.9,-1.0,-0.9,-0.9]
dash_tan = [
 -1.2,-1.4,-1.5,-1.2,-1.0,-0.8,-0.6,-0.8,-0.8,-0.6,-0.1,0.3,
 0.5,0.5,0.8,-0.6,-1.4,-1.6,-1.5,-1.7,-1.4,-1.3,-1.5,-1.2,
 -0.8,-0.5,-0.2,-0.6,-0.3,-0.5,-0.3,-0.6,-0.4,-0.4,-0.5,-0.7,
 -0.8,-0.9,-0.2,0.1,0.2,1.1,0.3,0.4,0.3,0.4,0.3,0.2,
 0.3,0.5,0.3,0.1,-0.2,-0.4,-0.6,-0.9,-1.2,-1.4,-1.3,-1.0,
 -0.6,0.2,0.4,0.7,1.2,1.35,1.75,1.1,0.47,0.1,-0.2,-0.4,
 -0.6,-0.3,0.2,0.0,-0.2,-0.4,-0.3,-0.6,-0.9,-0.4,-0.2,0.0,
 0.1,-0.2,-0.1,-0.1,0.0,-0.1,0.0,0.1]
dash_rose = [
 -1.0,-1.2,-1.4,-1.1,-0.9,-0.7,-0.5,-0.7,-0.7,-0.5,-0.2,0.2,
 0.0,-0.5,-0.8,-1.0,-1.3,-1.4,-1.2,-1.6,-1.5,-1.3,-1.4,-1.2,
 -1.0,-0.8,-0.3,-0.6,-0.3,-0.4,-0.2,-0.5,-0.3,-0.3,-0.4,-0.6,
 -0.7,-0.8,0.0,0.3,0.4,1.2,0.3,0.2,0.0,-0.1,-0.3,-0.6,
 -0.8,-0.6,-0.9,-1.1,-1.4,-1.5,-1.6,-1.9,-1.8,-1.7,-1.6,-1.8,
 -2.0,-2.1,-2.5,-2.8,-2.6,-2.7,-2.4,-2.6,-3.0,-3.0,-3.1,-3.2,
 -3.0,-2.4,-1.3,-1.6,-2.2,-2.7,-3.0,-3.5,-3.1,-1.9,-1.3,-1.0,
 -0.8,-1.2,-1.0,-1.1,-1.0,-1.1,-1.0,-1.0]
dash_lightyellow = [
 -0.6,-0.8,-1.0,-0.7,-0.4,-0.3,0.0,-0.2,-0.2,0.1,0.6,1.1,
 1.4,1.5,1.8,1.5,2.2,2.4,2.3,2.1,2.0,2.3,2.1,1.8,
 1.5,1.6,1.8,1.3,1.6,1.4,1.5,1.2,1.4,1.4,1.3,1.1,
 0.8,0.7,1.3,1.5,1.5,2.2,1.2,1.3,1.2,1.4,1.3,1.4,
 1.5,1.6,1.5,1.4,1.1,1.0,1.0,1.05,1.1,1.0,0.6,0.3,
 0.0,-0.3,-0.6,-0.9,-1.0,-1.2,-1.0,-1.3,-1.7,-1.8,-1.9,-2.1,
 -2.0,-1.4,-0.4,-0.7,-1.3,-1.7,-2.0,-2.5,-2.1,-1.0,-0.5,-0.3,
 -0.1,-0.6,-0.4,-0.5,-0.4,-0.5,-0.4,-0.4]
dash_purple = [
 -1.3,-1.5,-1.7,-1.4,-1.2,-1.0,-0.8,-1.0,-1.0,-0.8,-0.3,0.2,
 0.4,0.4,0.7,-0.1,0.5,0.3,0.3,0.4,0.3,0.4,0.3,0.1,
 0.0,0.1,0.4,-0.1,0.3,0.1,0.2,-0.1,0.1,0.1,0.0,-0.2,
 -0.4,-0.5,0.2,0.4,0.4,1.2,0.1,0.2,0.1,0.2,0.1,0.0,
 0.1,0.3,0.1,-0.1,-0.3,-0.5,-0.7,-1.0,-1.4,-1.8,-2.0,-2.4,
 -2.7,-2.8,-3.2,-3.4,-3.63,-3.55,-3.35,-3.3,-3.5,-3.4,-3.5,-3.6,
 -3.4,-2.8,-1.8,-2.1,-2.7,-3.2,-3.5,-4.0,-3.6,-2.4,-1.7,-1.4,
 -1.1,-1.6,-1.4,-1.5,-1.4,-1.5,-1.4,-1.3]
dash_lime = [
 -0.8,-1.0,-1.1,-0.8,-0.6,-0.5,-0.2,-0.4,-0.5,-0.3,0.2,0.8,
 1.0,1.0,1.3,0.5,1.1,0.9,0.9,1.0,0.9,1.0,0.9,0.7,
 0.6,0.7,1.0,0.5,0.9,0.7,0.8,0.5,0.7,0.7,0.6,0.4,
 0.2,0.1,0.8,1.0,1.0,1.8,0.7,0.8,0.7,0.8,0.7,0.6,
 0.6,0.9,0.7,0.4,0.2,0.0,-0.2,-0.5,-0.8,-1.1,-1.2,-1.5,
 -1.7,-1.8,-2.2,-2.5,-2.3,-2.4,-2.1,-2.3,-2.7,-2.8,-2.9,-3.0,
 -2.8,-2.2,-1.1,-1.4,-2.0,-2.5,-2.8,-3.3,-2.9,-1.8,-1.2,-0.9,
 -0.8,-1.5,-1.7,-2.06,-2.0,-1.86,-1.75,-1.66]

# draw order, colour, dashed?
series = [
    (navy, "#000080", False), (magenta, "#FF00FF", False), (yellow, "#FFFF00", False),
    (cyan, "#00FFFF", False), (purple, "#800080", False), (darkred, "#800000", False),
    (teal, "#008080", False), (blue, "#0000FF", False), (skyblue, "#00CCFF", False),
    (lightturq, "#CCFFFF", False), (lightgreen, "#CCFFCC", False), (lightyellow, "#FFFF99", False),
    (paleblue, "#99CCFF", False), (rose, "#FF99CC", False), (lavender, "#CC99FF", False),
    (tan, "#FFCC99", False), (lightblue, "#3366FF", False), (aqua, "#33CCCC", False),
    (lime, "#99CC00", False), (gold, "#FFCC00", False), (lightorange, "#FF9900", False),
    (orange, "#FF6600", False), (bluegray, "#666699", False), (gray40, "#969696", False),
    (darkteal, "#003366", False), (seagreen, "#339966", False), (darkgreen, "#003300", False),
    (brown, "#993300", False), (plum, "#993366", False), (indigo, "#333399", False),
    (black, "#000000", False), (red, "#FF0000", False), (brightgreen, "#00FF00", False),
    (green, "#008000", False), (olive, "#808000", False), (silver, "#C0C0C0", False),
    (periwinkle, "#9999FF", False), (darkpurple, "#660066", False), (coral, "#FF8080", False),
    (ocean, "#0066CC", False),
    (dash_blue, "#3366FF", True), (dash_darkred, "#800000", True), (dash_tan, "#FFCC99", True),
    (dash_rose, "#FF99CC", True), (dash_lime, "#99CC00", True), (dash_purple, "#800080", True),
    (dash_lightyellow, "#FFFF99", True),
]

for vals, _, _ in series:
    assert len(vals) == n_months, len(vals)

x = list(range(n_months))

W, H = 1051, 642
fig = plt.figure(figsize=(W / 100, H / 100), dpi=100)
ax = fig.add_axes([64 / W, 44 / H, 987 / W, 581 / H])

for vals, col, dashed in series:
    ax.plot(x, vals, color=col, lw=0.95,
            linestyle=(0, (7, 3.5)) if dashed else '-', zorder=2)

ax.set_xlim(-0.37, 91.0)
ax.set_ylim(-8, 6)

# spines
ax.spines['top'].set_visible(False)
ax.spines['right'].set_visible(False)
ax.spines['left'].set_color('#808080')
ax.spines['left'].set_linewidth(1.0)
ax.spines['bottom'].set_position(('data', 0))
ax.spines['bottom'].set_color('black')
ax.spines['bottom'].set_linewidth(0.8)
ax.spines['bottom'].set_zorder(1)
ax.set_axisbelow(False)

ax.set_xticks(list(range(0, n_months - 1, label_step)))
ax.set_xticklabels(tick_labels, rotation=90, fontsize=12.5)
ax.tick_params(axis='x', direction='out', length=3.6, width=0.8, color='black', pad=6.0)

ax.set_yticks(y_ticks)
ax.set_yticklabels(y_tick_labels, fontsize=12.5)
ax.tick_params(axis='y', direction='out', length=3.6, width=0.9, color='#808080', pad=6.5)

ax.set_ylabel("t-statistic (Alpha)  .", fontsize=13)
ax.yaxis.set_label_coords(-34 / 987, 0.51)

fig.text(561 / W, 6 / H, "Time (MMM YY)", ha='center', va='baseline', fontsize=13)

fig.savefig("out.png", dpi=100, facecolor='white')
